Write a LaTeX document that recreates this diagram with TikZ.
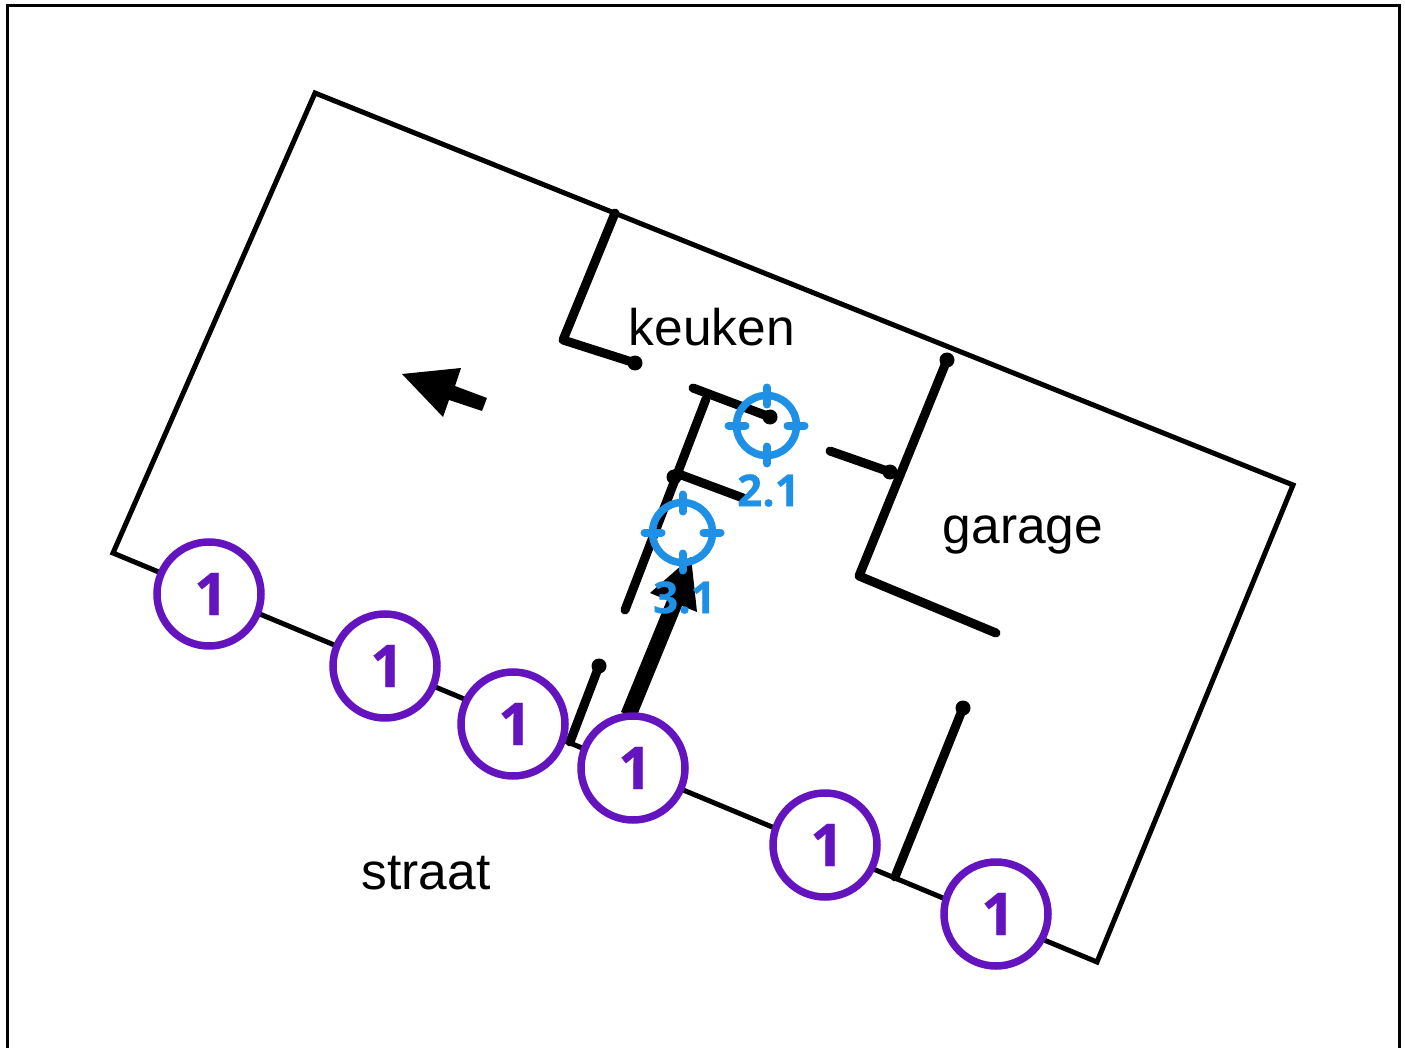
\documentclass[tikz,border=0pt]{standalone}
\usepackage{fontspec}
\setmainfont{Liberation Sans}
\newfontfamily\opensans[BoldFeatures={FakeBold=0.6}]{Open Sans}
\definecolor{markpurple}{HTML}{6414BE}
\definecolor{targetblue}{HTML}{1E90E6}
\tikzset{
  frameline/.style={line width=3pt,black},
  outerwall/.style={line width=5pt,line join=miter,black},
  wall/.style={line width=9pt,line cap=round,line join=round,black},
  walldot/.style={circle,fill=black,inner sep=0pt,minimum size=15pt},
  roomlabel/.style={font=\fontsize{51.5}{51.5}\selectfont,inner sep=0pt,text=black},
  markcircle/.style={circle,draw=markpurple,fill=white,line width=7.5pt,inner sep=0pt,minimum size=104pt,
     text=markpurple,font=\opensans\bfseries\fontsize{59}{59}\selectfont},
  targetring/.style={circle,draw=targetblue,line width=7.5pt,inner sep=0pt,minimum size=60pt},
  targettick/.style={line width=8pt,targetblue,line cap=round},
  targetlabel/.style={text=targetblue,inner sep=0pt,font=\opensans\bfseries\fontsize{44}{44}\selectfont}
}
\begin{document}
\begin{tikzpicture}[x=1pt,y=-1pt]
\useasboundingbox (0,0) rectangle (1405,1048);
\draw[frameline] (7,1048) -- (7,6) -- (1399,6) -- (1399,1048);
% building outline
\coordinate (b1) at (315,93);
\coordinate (b2) at (1293,485);
\coordinate (b3) at (1097,962);
\coordinate (b4) at (113,553);
\draw[outerwall] (b1) -- (b2) -- (b3) -- (b4) -- cycle;
% walls
\coordinate (k1) at (615,213);
\coordinate (k2) at (563,340);
\node[walldot] (k3) at (635,363) {};
\draw[wall] (k1) -- (k2) -- (k3.center);
\coordinate (h1) at (693,388);
\node[walldot] (h2) at (770,417) {};
\draw[wall] (h1) -- (h2.center);
\coordinate (h3) at (706,399);
\coordinate (h4) at (625,610);
\draw[wall] (h3) -- (h4);
\node[walldot] (h5) at (674,477) {};
\coordinate (h5b) at (676,473);
\coordinate (h6) at (743,498);
\draw[wall] (h5b) -- (h6);
\coordinate (g1) at (830,451);
\node[walldot] (g2) at (890,472) {};
\draw[wall] (g1) -- (g2.center);
\node[walldot] (g3) at (947,360) {};
\coordinate (g4) at (859,576);
\coordinate (g5) at (996,633);
\draw[wall] (g3.center) -- (g4) -- (g5);
\node[walldot] (d1) at (599,666) {};
\coordinate (d2) at (570,742);
\draw[wall] (d1.center) -- (d2);
\node[walldot] (d3) at (963,708) {};
\coordinate (d4) at (895,877);
\draw[wall] (d3.center) -- (d4);
% arrows
\fill[black] (402,374) -- (461,368) -- (455,386) -- (487,398) -- (482,411) -- (449,400) -- (443,417) -- cycle;
\fill[black] (691,557) -- (697,612) -- (682,606) -- (636,718) -- (621,712) -- (667,600) -- (650,593) -- cycle;
% room labels
\node[roomlabel] (keuken) at (712,327) {keuken};
\node[roomlabel,anchor=base] (garage) at (1023,543) {garage};
\node[roomlabel] (straat) at (426,873) {straat};
% markers
\node[markcircle] (m1) at (209,594) {\hspace{4pt}1};
\node[markcircle] (m2) at (385,666) {\hspace{4pt}1};
\node[markcircle] (m3) at (513,724) {\hspace{4pt}1};
\node[markcircle] (m4) at (633,768) {\hspace{4pt}1};
\node[markcircle] (m5) at (825,845) {\hspace{4pt}1};
\node[markcircle] (m6) at (996,914) {\hspace{4pt}1};
% targets
\foreach \n/\x/\y/\t in {ta/766.5/425.5/2.1,tb/682.5/532.5/3.1}{
  \node[targetring] (\n) at (\x,\y) {};
  \draw[targettick] (\n.center) ++(0,-38) -- ++(0,17);
  \draw[targettick] (\n.center) ++(0,38) -- ++(0,-17);
  \draw[targettick] (\n.center) ++(-38,0) -- ++(17,0);
  \draw[targettick] (\n.center) ++(38,0) -- ++(-17,0);
  \node[targetlabel] (\n l) at (\x+2,\y+65) {\t};
}
\end{tikzpicture}
\end{document}
